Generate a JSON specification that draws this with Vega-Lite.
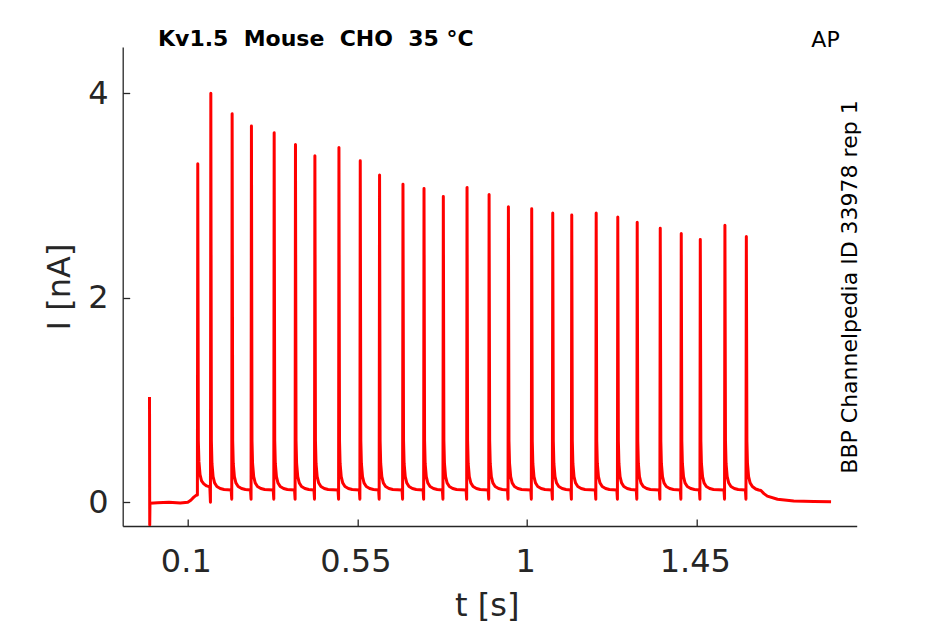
{
  "$schema": "https://vega.github.io/schema/vega-lite/v6.json",
  "width": 734,
  "height": 479,
  "autosize": {"type": "none"},
  "padding": {"left": 122.7, "top": 47, "right": 88.3, "bottom": 98},
  "background": "white",
  "title": {
    "text": "Kv1.5\u00a0\u00a0Mouse\u00a0\u00a0CHO\u00a0\u00a035 °C",
    "anchor": "start",
    "frame": "group",
    "offset": 0,
    "baseline": "alphabetic",
    "dx": 35.3,
    "dy": 40,
    "font": "DejaVu Sans",
    "fontSize": 22,
    "fontWeight": "bold",
    "color": "black"
  },
  "config": {
    "view": {"stroke": null},
    "axis": {
      "grid": false,
      "labelFont": "DejaVu Sans",
      "labelFontSize": 32,
      "labelColor": "#262626",
      "titleFont": "DejaVu Sans",
      "titleFontSize": 32,
      "titleFontWeight": "normal",
      "titleColor": "#262626",
      "domainColor": "#262626",
      "domainWidth": 1.3,
      "tickColor": "#262626",
      "tickWidth": 1.3,
      "tickSize": -7
    }
  },
  "data": {
    "values": [
      {"t": -0.0015, "I": 1.03}, {"t": -0.0009, "I": -0.22}, {"t": -0.0003, "I": -0.01},
      {"t": 0.02, "I": -0.005}, {"t": 0.05, "I": 0.0}, {"t": 0.08, "I": -0.008}, {"t": 0.1, "I": 0.0},
      {"t": 0.108, "I": 0.02}, {"t": 0.116, "I": 0.05}, {"t": 0.122, "I": 0.068}, {"t": 0.1255, "I": 0.07},
      {"t": 0.1265, "I": 3.31}, {"t": 0.128, "I": 0.6}, {"t": 0.1295, "I": 0.4}, {"t": 0.1325, "I": 0.27},
      {"t": 0.1365, "I": 0.21}, {"t": 0.1425, "I": 0.18}, {"t": 0.15, "I": 0.16}, {"t": 0.1585, "I": 0.15},
      {"t": 0.1601, "I": 0.0}, {"t": 0.1611, "I": 4.0}, {"t": 0.1626, "I": 0.6}, {"t": 0.1641, "I": 0.38},
      {"t": 0.1671, "I": 0.25}, {"t": 0.1711, "I": 0.19}, {"t": 0.1771, "I": 0.155}, {"t": 0.1861, "I": 0.135}, {"t": 0.1961, "I": 0.125},
      {"t": 0.2151, "I": 0.12}, {"t": 0.2166, "I": 0.03}, {"t": 0.2176, "I": 3.8}, {"t": 0.2191, "I": 0.6}, {"t": 0.2206, "I": 0.38},
      {"t": 0.2236, "I": 0.25}, {"t": 0.2276, "I": 0.19}, {"t": 0.2336, "I": 0.155}, {"t": 0.2426, "I": 0.135}, {"t": 0.2526, "I": 0.125},
      {"t": 0.2663, "I": 0.12}, {"t": 0.2678, "I": 0.03}, {"t": 0.2688, "I": 3.68}, {"t": 0.2703, "I": 0.6}, {"t": 0.2718, "I": 0.38},
      {"t": 0.2748, "I": 0.25}, {"t": 0.2788, "I": 0.19}, {"t": 0.2848, "I": 0.155}, {"t": 0.2938, "I": 0.135}, {"t": 0.3038, "I": 0.125},
      {"t": 0.3266, "I": 0.12}, {"t": 0.3281, "I": 0.03}, {"t": 0.3291, "I": 3.615}, {"t": 0.3306, "I": 0.6}, {"t": 0.3321, "I": 0.38},
      {"t": 0.3351, "I": 0.25}, {"t": 0.3391, "I": 0.19}, {"t": 0.3451, "I": 0.155}, {"t": 0.3541, "I": 0.135}, {"t": 0.3641, "I": 0.125},
      {"t": 0.3831, "I": 0.12}, {"t": 0.3846, "I": 0.03}, {"t": 0.3856, "I": 3.5}, {"t": 0.3871, "I": 0.6}, {"t": 0.3886, "I": 0.38},
      {"t": 0.3916, "I": 0.25}, {"t": 0.3956, "I": 0.19}, {"t": 0.4016, "I": 0.155}, {"t": 0.4106, "I": 0.135}, {"t": 0.4206, "I": 0.125},
      {"t": 0.4346, "I": 0.12}, {"t": 0.4361, "I": 0.03}, {"t": 0.4371, "I": 3.39}, {"t": 0.4386, "I": 0.6}, {"t": 0.4401, "I": 0.38},
      {"t": 0.4431, "I": 0.25}, {"t": 0.4471, "I": 0.19}, {"t": 0.4531, "I": 0.155}, {"t": 0.4621, "I": 0.135}, {"t": 0.4721, "I": 0.125},
      {"t": 0.4984, "I": 0.12}, {"t": 0.4999, "I": 0.03}, {"t": 0.5009, "I": 3.47}, {"t": 0.5024, "I": 0.6}, {"t": 0.5039, "I": 0.38},
      {"t": 0.5069, "I": 0.25}, {"t": 0.5109, "I": 0.19}, {"t": 0.5169, "I": 0.155}, {"t": 0.5259, "I": 0.135}, {"t": 0.5359, "I": 0.125},
      {"t": 0.5549, "I": 0.12}, {"t": 0.5564, "I": 0.03}, {"t": 0.5574, "I": 3.34}, {"t": 0.5589, "I": 0.6}, {"t": 0.5604, "I": 0.38},
      {"t": 0.5634, "I": 0.25}, {"t": 0.5674, "I": 0.19}, {"t": 0.5734, "I": 0.155}, {"t": 0.5824, "I": 0.135}, {"t": 0.5924, "I": 0.125},
      {"t": 0.6061, "I": 0.12}, {"t": 0.6076, "I": 0.03}, {"t": 0.6086, "I": 3.2}, {"t": 0.6101, "I": 0.6}, {"t": 0.6116, "I": 0.38},
      {"t": 0.6146, "I": 0.25}, {"t": 0.6186, "I": 0.19}, {"t": 0.6246, "I": 0.155}, {"t": 0.6336, "I": 0.135}, {"t": 0.6436, "I": 0.125},
      {"t": 0.6682, "I": 0.12}, {"t": 0.6697, "I": 0.03}, {"t": 0.6707, "I": 3.11}, {"t": 0.6722, "I": 0.6}, {"t": 0.6737, "I": 0.38},
      {"t": 0.6767, "I": 0.25}, {"t": 0.6807, "I": 0.19}, {"t": 0.6867, "I": 0.155}, {"t": 0.6957, "I": 0.135}, {"t": 0.7057, "I": 0.125},
      {"t": 0.724, "I": 0.12}, {"t": 0.7255, "I": 0.03}, {"t": 0.7265, "I": 3.07}, {"t": 0.728, "I": 0.6}, {"t": 0.7295, "I": 0.38},
      {"t": 0.7325, "I": 0.25}, {"t": 0.7365, "I": 0.19}, {"t": 0.7425, "I": 0.155}, {"t": 0.7515, "I": 0.135}, {"t": 0.7615, "I": 0.125},
      {"t": 0.7752, "I": 0.12}, {"t": 0.7767, "I": 0.03}, {"t": 0.7777, "I": 2.99}, {"t": 0.7792, "I": 0.6}, {"t": 0.7807, "I": 0.38},
      {"t": 0.7837, "I": 0.25}, {"t": 0.7877, "I": 0.19}, {"t": 0.7937, "I": 0.155}, {"t": 0.8027, "I": 0.135}, {"t": 0.8127, "I": 0.125},
      {"t": 0.8381, "I": 0.12}, {"t": 0.8396, "I": 0.03}, {"t": 0.8406, "I": 3.08}, {"t": 0.8421, "I": 0.6}, {"t": 0.8436, "I": 0.38},
      {"t": 0.8466, "I": 0.25}, {"t": 0.8506, "I": 0.19}, {"t": 0.8566, "I": 0.155}, {"t": 0.8656, "I": 0.135}, {"t": 0.8756, "I": 0.125},
      {"t": 0.8966, "I": 0.12}, {"t": 0.8981, "I": 0.03}, {"t": 0.8991, "I": 3.01}, {"t": 0.9006, "I": 0.6}, {"t": 0.9021, "I": 0.38},
      {"t": 0.9051, "I": 0.25}, {"t": 0.9091, "I": 0.19}, {"t": 0.9151, "I": 0.155}, {"t": 0.9241, "I": 0.135}, {"t": 0.9341, "I": 0.125},
      {"t": 0.9478, "I": 0.12}, {"t": 0.9493, "I": 0.03}, {"t": 0.9503, "I": 2.89}, {"t": 0.9518, "I": 0.6}, {"t": 0.9533, "I": 0.38},
      {"t": 0.9563, "I": 0.25}, {"t": 0.9603, "I": 0.19}, {"t": 0.9663, "I": 0.155}, {"t": 0.9753, "I": 0.135}, {"t": 0.9853, "I": 0.125},
      {"t": 1.0096, "I": 0.12}, {"t": 1.0111, "I": 0.03}, {"t": 1.0121, "I": 2.87}, {"t": 1.0136, "I": 0.6}, {"t": 1.0151, "I": 0.38},
      {"t": 1.0181, "I": 0.25}, {"t": 1.0221, "I": 0.19}, {"t": 1.0281, "I": 0.155}, {"t": 1.0371, "I": 0.135}, {"t": 1.0471, "I": 0.125},
      {"t": 1.0654, "I": 0.12}, {"t": 1.0669, "I": 0.03}, {"t": 1.0679, "I": 2.83}, {"t": 1.0694, "I": 0.6}, {"t": 1.0709, "I": 0.38},
      {"t": 1.0739, "I": 0.25}, {"t": 1.0779, "I": 0.19}, {"t": 1.0839, "I": 0.155}, {"t": 1.0929, "I": 0.135}, {"t": 1.1029, "I": 0.125},
      {"t": 1.1158, "I": 0.12}, {"t": 1.1173, "I": 0.03}, {"t": 1.1183, "I": 2.81}, {"t": 1.1198, "I": 0.6}, {"t": 1.1213, "I": 0.38},
      {"t": 1.1243, "I": 0.25}, {"t": 1.1283, "I": 0.19}, {"t": 1.1343, "I": 0.155}, {"t": 1.1433, "I": 0.135}, {"t": 1.1533, "I": 0.125},
      {"t": 1.1806, "I": 0.12}, {"t": 1.1821, "I": 0.03}, {"t": 1.1831, "I": 2.83}, {"t": 1.1846, "I": 0.6}, {"t": 1.1861, "I": 0.38},
      {"t": 1.1891, "I": 0.25}, {"t": 1.1931, "I": 0.19}, {"t": 1.1991, "I": 0.155}, {"t": 1.2081, "I": 0.135}, {"t": 1.2181, "I": 0.125},
      {"t": 1.2379, "I": 0.12}, {"t": 1.2394, "I": 0.03}, {"t": 1.2404, "I": 2.79}, {"t": 1.2419, "I": 0.6}, {"t": 1.2434, "I": 0.38},
      {"t": 1.2464, "I": 0.25}, {"t": 1.2504, "I": 0.19}, {"t": 1.2564, "I": 0.155}, {"t": 1.2654, "I": 0.135}, {"t": 1.2754, "I": 0.125},
      {"t": 1.2894, "I": 0.12}, {"t": 1.2909, "I": 0.03}, {"t": 1.2919, "I": 2.74}, {"t": 1.2934, "I": 0.6}, {"t": 1.2949, "I": 0.38},
      {"t": 1.2979, "I": 0.25}, {"t": 1.3019, "I": 0.19}, {"t": 1.3079, "I": 0.155}, {"t": 1.3169, "I": 0.135}, {"t": 1.3269, "I": 0.125},
      {"t": 1.3505, "I": 0.12}, {"t": 1.352, "I": 0.03}, {"t": 1.353, "I": 2.68}, {"t": 1.3545, "I": 0.6}, {"t": 1.356, "I": 0.38},
      {"t": 1.359, "I": 0.25}, {"t": 1.363, "I": 0.19}, {"t": 1.369, "I": 0.155}, {"t": 1.378, "I": 0.135}, {"t": 1.388, "I": 0.125},
      {"t": 1.4062, "I": 0.12}, {"t": 1.4077, "I": 0.03}, {"t": 1.4087, "I": 2.63}, {"t": 1.4102, "I": 0.6}, {"t": 1.4117, "I": 0.38},
      {"t": 1.4147, "I": 0.25}, {"t": 1.4187, "I": 0.19}, {"t": 1.4247, "I": 0.155}, {"t": 1.4337, "I": 0.135}, {"t": 1.4437, "I": 0.125},
      {"t": 1.4567, "I": 0.12}, {"t": 1.4582, "I": 0.03}, {"t": 1.4592, "I": 2.57}, {"t": 1.4607, "I": 0.6}, {"t": 1.4622, "I": 0.38},
      {"t": 1.4652, "I": 0.25}, {"t": 1.4692, "I": 0.19}, {"t": 1.4752, "I": 0.155}, {"t": 1.4842, "I": 0.135}, {"t": 1.4942, "I": 0.125},
      {"t": 1.522, "I": 0.12}, {"t": 1.5235, "I": 0.03}, {"t": 1.5245, "I": 2.71}, {"t": 1.526, "I": 0.6}, {"t": 1.5275, "I": 0.38},
      {"t": 1.5305, "I": 0.25}, {"t": 1.5345, "I": 0.19}, {"t": 1.5405, "I": 0.155}, {"t": 1.5495, "I": 0.135}, {"t": 1.5595, "I": 0.125},
      {"t": 1.5788, "I": 0.12}, {"t": 1.5803, "I": 0.03}, {"t": 1.5813, "I": 2.6}, {"t": 1.5828, "I": 0.6}, {"t": 1.5843, "I": 0.38},
      {"t": 1.5873, "I": 0.25}, {"t": 1.5913, "I": 0.19}, {"t": 1.5973, "I": 0.155}, {"t": 1.6063, "I": 0.13}, {"t": 1.614, "I": 0.12},
      {"t": 1.62, "I": 0.115}, {"t": 1.628, "I": 0.085}, {"t": 1.637, "I": 0.06}, {"t": 1.664, "I": 0.03}, {"t": 1.707, "I": 0.013},
      {"t": 1.76, "I": 0.007}, {"t": 1.806, "I": 0.004}
    ]
  },
  "resolve": {"scale": {"x": "shared", "y": "shared"}, "axis": {"x": "independent", "y": "independent"}},
  "layer": [
    {
      "mark": {"type": "line", "color": "#ff0000", "strokeWidth": 3, "strokeJoin": "round", "clip": true},
      "encoding": {
        "x": {
          "field": "t", "type": "quantitative",
          "scale": {"domain": [-0.0726, 1.874], "nice": false, "zero": false},
          "axis": {
            "orient": "bottom",
            "values": [0.1, 0.55, 1, 1.45],
            "labelExpr": "'' + datum.value",
            "labelPadding": 52.7,
            "labelOffset": -2,
            "labelBaseline": "alphabetic",
            "title": "t [s]",
            "titleBaseline": "alphabetic",
            "titleX": 364,
            "titleY": 89
          }
        },
        "y": {
          "field": "I", "type": "quantitative",
          "scale": {"domain": [-0.232, 4.453], "nice": false, "zero": false},
          "axis": {
            "orient": "left",
            "values": [0, 2, 4],
            "labelExpr": "'' + datum.value",
            "labelPadding": 21.5,
            "title": "I [nA]",
            "titleAngle": -90,
            "titleBaseline": "alphabetic",
            "titleX": -53
          }
        }
      }
    },
    {
      "transform": [{"filter": "datum.t == 0.1"}],
      "mark": {"type": "point", "opacity": 0, "size": 0},
      "encoding": {
        "x": {
          "field": "t", "type": "quantitative",
          "axis": {
            "orient": "top",
            "domain": false, "ticks": false, "labels": false,
            "title": "AP",
            "titleFontSize": 22,
            "titleColor": "black",
            "titleAngle": 0,
            "titleAlign": "right",
            "titleBaseline": "alphabetic",
            "titleX": 716.5,
            "titleY": -1
          }
        },
        "y": {
          "field": "I", "type": "quantitative",
          "axis": {
            "orient": "right",
            "domain": false, "ticks": false, "labels": false,
            "title": "BBP Channelpedia ID 33978 rep 1",
            "titleFontSize": 22,
            "titleColor": "black",
            "titleAngle": -90,
            "titleAlign": "center",
            "titleBaseline": "alphabetic",
            "titleX": 0,
            "titleY": 239.5
          }
        }
      }
    }
  ]
}
